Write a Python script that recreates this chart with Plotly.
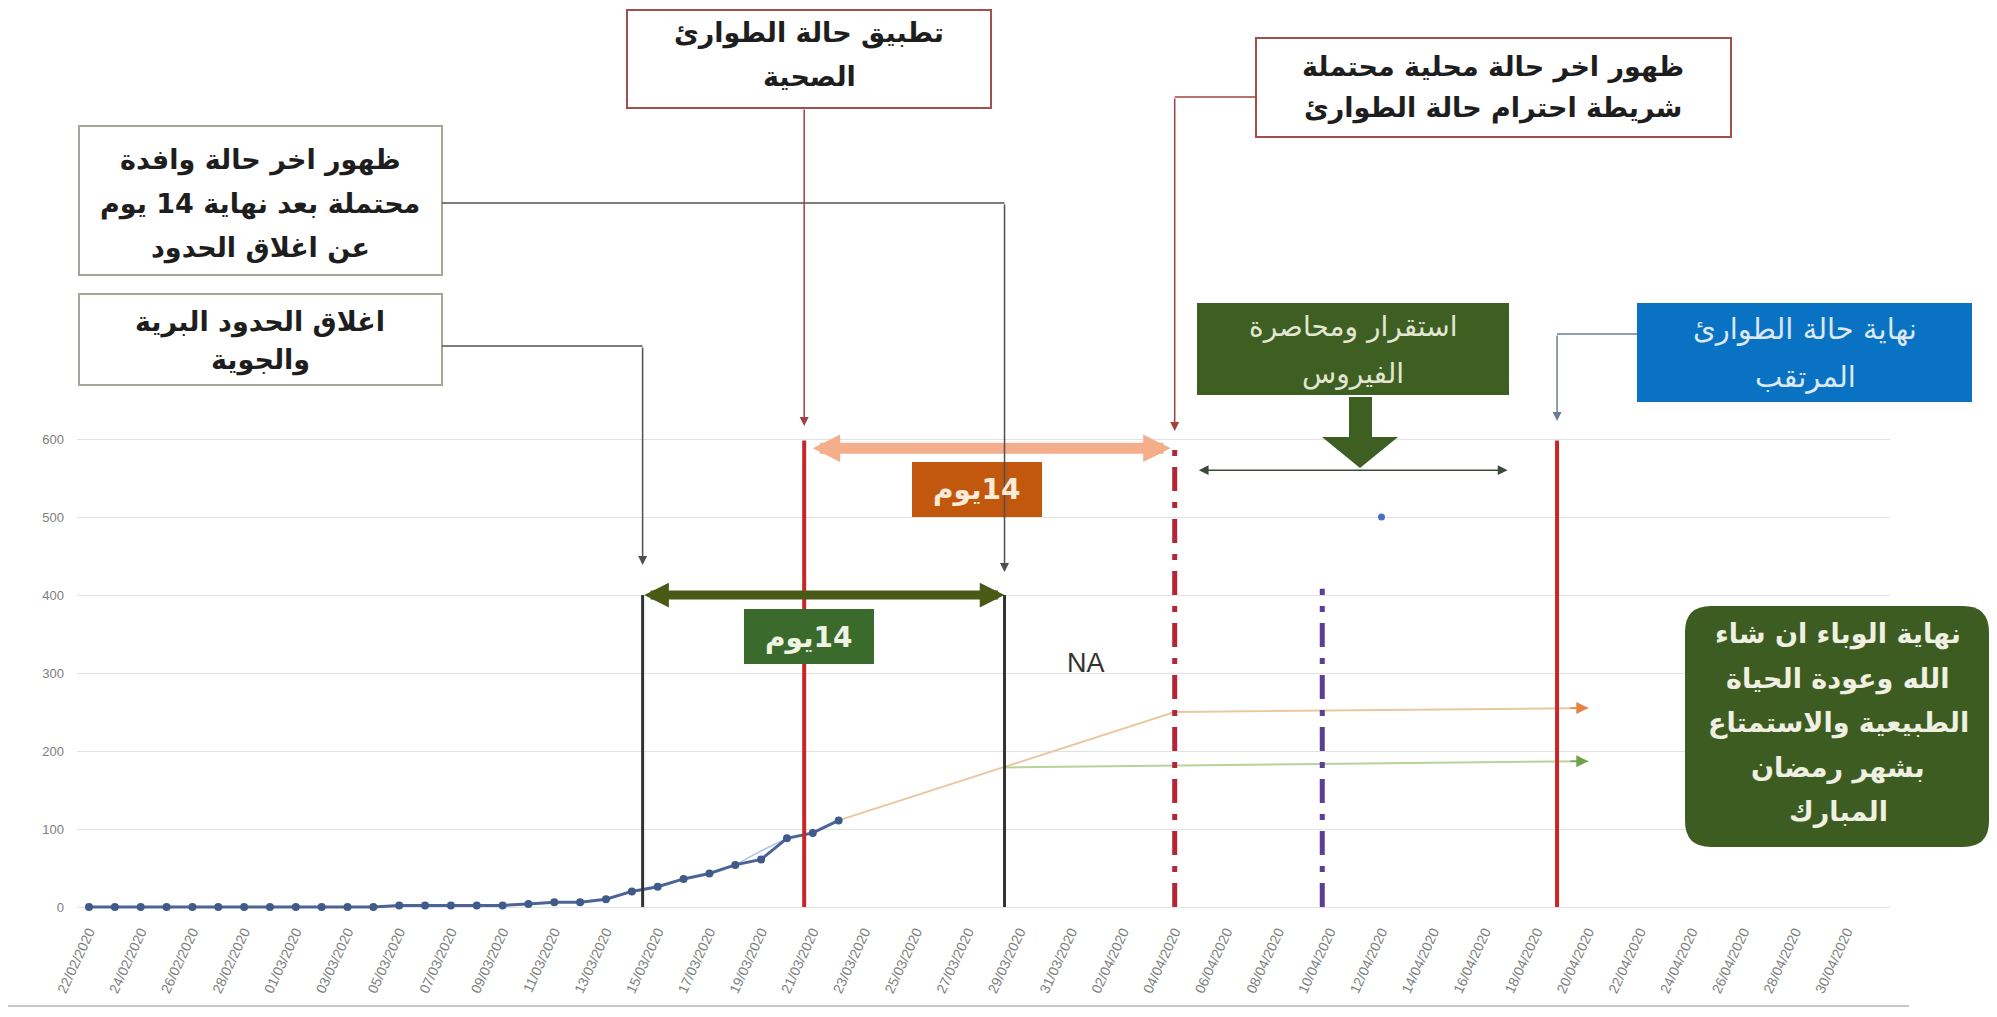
import plotly.graph_objects as go
from datetime import datetime, timedelta

# ---------------- data ----------------
dates = ["2020-02-22", "2020-02-23", "2020-02-24", "2020-02-25", "2020-02-26", "2020-02-27",
         "2020-02-28", "2020-02-29", "2020-03-01", "2020-03-02", "2020-03-03", "2020-03-04",
         "2020-03-05", "2020-03-06", "2020-03-07", "2020-03-08", "2020-03-09", "2020-03-10",
         "2020-03-11", "2020-03-12", "2020-03-13", "2020-03-14", "2020-03-15", "2020-03-16",
         "2020-03-17", "2020-03-18", "2020-03-19", "2020-03-20", "2020-03-21", "2020-03-22"]
cases = [0, 0, 0, 0, 0, 0, 0, 0, 0, 0, 0, 0, 2, 2, 2, 2, 2, 4, 6, 6,
         10, 20, 26, 36, 43, 54, 61, 88, 95, 111]

trend_dates = ["2020-03-18", "2020-03-19", "2020-03-20"]
trend_vals = [54, 72, 88]

proj_dates = ["2020-03-22", "2020-04-04", "2020-04-20"]
proj_vals = [111, 250, 255]

proj2_dates = ["2020-03-28 10:00", "2020-04-20"]
proj2_vals = [179, 187]

extra_dates = ["2020-04-12"]
extra_vals = [500]

# event lines
ev_border = "2020-03-14 10:00"      # border closing
ev_emerg = "2020-03-20 16:00"       # health emergency
ev_last_imported = "2020-03-28 10:00"
ev_last_local = "2020-04-04 00:00"
ev_purple = "2020-04-09 17:00"
ev_end = "2020-04-18 19:00"

tick_dates = ["2020-02-22", "2020-02-24", "2020-02-26", "2020-02-28", "2020-03-01", "2020-03-03",
              "2020-03-05", "2020-03-07", "2020-03-09", "2020-03-11", "2020-03-13", "2020-03-15",
              "2020-03-17", "2020-03-19", "2020-03-21", "2020-03-23", "2020-03-25", "2020-03-27",
              "2020-03-29", "2020-03-31", "2020-04-02", "2020-04-04", "2020-04-06", "2020-04-08",
              "2020-04-10", "2020-04-12", "2020-04-14", "2020-04-16", "2020-04-18", "2020-04-20",
              "2020-04-22", "2020-04-24", "2020-04-26", "2020-04-28", "2020-04-30"]
y_ticks = [0, 100, 200, 300, 400, 500, 600]

# ---------------- geometry (page pixel coordinates) ----------------
OFF = 8                      # default body margin of the html page
FW, FH = 1981, 1001          # figure size
L, R, T, B = 77, 1890, 8, 920
DAY0 = datetime(2020, 2, 22)
PX_PER_DAY = 25.85
X0_PX = 89
Y0_PX = 907
PX_PER_UNIT = 0.78

xmin = DAY0 + timedelta(days=(L - X0_PX) / PX_PER_DAY)
xmax = DAY0 + timedelta(days=(R - X0_PX) / PX_PER_DAY)
ymin = (Y0_PX - B) / PX_PER_UNIT
ymax = (Y0_PX - T) / PX_PER_UNIT


def ppx(px):
    return (px - L) / (R - L)


def ppy(py):
    return (B - py) / (B - T)


def date_px(s):
    d = datetime.fromisoformat(s)
    return X0_PX + (d - DAY0).total_seconds() / 86400 * PX_PER_DAY


AR = "DejaVu Sans, sans-serif"

fig = go.Figure()

fig.add_trace(go.Scatter(x=trend_dates, y=trend_vals, mode="lines",
                         line=dict(color="#A9C4E4", width=1.5), hoverinfo="skip"))
fig.add_trace(go.Scatter(x=proj_dates, y=proj_vals, mode="lines",
                         line=dict(color="#EBC7A0", width=2), hoverinfo="skip"))
fig.add_trace(go.Scatter(x=proj2_dates, y=proj2_vals, mode="lines",
                         line=dict(color="#B8D39A", width=2), hoverinfo="skip"))
fig.add_trace(go.Scatter(x=dates, y=cases, mode="lines+markers",
                         line=dict(color="#4A6498", width=3),
                         marker=dict(color="#405B8A", size=8)))
fig.add_trace(go.Scatter(x=extra_dates, y=extra_vals, mode="markers",
                         marker=dict(color="#4472C4", size=7)))

shapes = []
annots = []


def vline(date, top, color, width, dash="solid"):
    shapes.append(dict(type="line", xref="x", yref="y", x0=date, x1=date, y0=0, y1=top,
                       line=dict(color=color, width=width, dash=dash), layer="above"))


vline(ev_border, 400, "#333333", 3)
vline(ev_last_imported, 400, "#333333", 3)
vline(ev_emerg, 598, "#C62828", 4)
vline(ev_last_local, 596, "#B32637", 5, "24px,11px,6px,11px")
vline(ev_purple, 408, "#5B3F91", 5, "24px,11px,6px,11px")
vline(ev_end, 598, "#C62828", 4)


def darrow(x0, x1, y, color, width, size, s0=0, s1=0):
    annots.append(dict(x=x1, y=y, ax=x0, ay=y, xref="x", yref="y", axref="x", ayref="y",
                       text="", showarrow=True, arrowhead=2, startarrowhead=2,
                       arrowside="end+start", arrowsize=size, startarrowsize=size,
                       arrowwidth=width, arrowcolor=color, standoff=s1, startstandoff=s0))


darrow(ev_emerg, ev_last_local, 588, "#F4AE8A", 11, 0.5, 7, 4)
darrow(ev_border, ev_last_imported, 400, "#4A5A16", 9, 0.55)
darrow("2020-04-04 21:00", "2020-04-16 21:00", 560, "#3A4A3A", 1.5, 1.3)

for yv, c in [(255, "#E3833F"), (187, "#6FA34A")]:
    annots.append(dict(x="2020-04-20", y=yv, ax="2020-04-19 06:00", ay=yv, xref="x", yref="y",
                       axref="x", ayref="y", text="", showarrow=True, arrowhead=2,
                       arrowsize=1.6, arrowwidth=1.5, arrowcolor=c))

annots.append(dict(x="2020-03-31 14:00", y=313, xref="x", yref="y", text="NA", showarrow=False,
                   font=dict(family="Liberation Sans, Arial", size=27, color="#333333")))


def box(x0, y0, x1, y1, fill, border=None, bw=2):
    shapes.append(dict(type="rect", xref="paper", yref="paper", x0=ppx(x0), x1=ppx(x1),
                       y0=ppy(y1), y1=ppy(y0), fillcolor=fill,
                       line=dict(color=border if border else fill, width=bw if border else 0),
                       layer="above"))


def lines_text(lines, cx, cys, size, color, bold=True):
    for ln, cy in zip(lines, cys):
        annots.append(dict(x=ppx(cx), y=ppy(cy), xref="paper", yref="paper",
                           text=("<b>%s</b>" % ln) if bold else ln, showarrow=False,
                           xanchor="center", yanchor="middle",
                           font=dict(family=AR, size=size, color=color)))


def hseg(xa, xb, y, color):
    shapes.append(dict(type="line", xref="paper", yref="paper", x0=ppx(xa), x1=ppx(xb),
                       y0=ppy(y), y1=ppy(y), line=dict(color=color, width=1.5), layer="above"))


def vconn(x, ystart, ytip, color):
    annots.append(dict(x=ppx(x), y=ppy(ytip), xref="paper", yref="paper", ax=0, ay=ystart - ytip,
                       text="", showarrow=True, arrowhead=2, arrowsize=1.2, arrowwidth=1.5,
                       arrowcolor=color))


TXT = "#1E1E1E"
WS = 27
# box 1
box(627, 10, 991, 108, "white", "#A0504F")
lines_text(["تطبيق حالة الطوارئ", "الصحية"], 809, [33, 76], WS, TXT)
xe = date_px(ev_emerg)
vconn(xe, 108, 426, "#A04040")

# box 2
box(1256, 38, 1731, 137, "white", "#A0504F")
lines_text(["ظهور اخر حالة محلية محتملة", "شريطة احترام حالة الطوارئ"], 1493, [67, 108], WS, TXT)
xl = date_px(ev_last_local)
hseg(1256, xl, 97, "#A04040")
vconn(xl, 97, 431, "#A04040")

# box 3
box(79, 126, 442, 275, "white", "#A3A89A")
lines_text(["ظهور اخر حالة وافدة", "محتملة بعد نهاية 14 يوم", "عن اغلاق الحدود"],
           260, [160, 204, 248], WS, TXT)
xi = date_px(ev_last_imported)
hseg(442, xi, 203, "#505050")
vconn(xi, 203, 572, "#505050")

# box 4
box(79, 294, 442, 385, "white", "#A3A89A")
lines_text(["اغلاق الحدود البرية", "والجوية"], 260, [322, 360], WS, TXT)
xb = date_px(ev_border)
hseg(442, xb, 346, "#505050")
vconn(xb, 346, 565, "#505050")

# green stabilisation box
box(1197, 303, 1509, 395, "#3E5F22")
lines_text(["استقرار ومحاصرة", "الفيروس"], 1353, [327, 373], 28, "#E4E6D4", bold=False)
pts = [(1349, 397), (1372, 397), (1372, 437), (1398, 437), (1360, 468), (1322, 437), (1349, 437)]
path = "M " + " L ".join("%f,%f" % (ppx(a), ppy(b)) for a, b in pts) + " Z"
shapes.append(dict(type="path", xref="paper", yref="paper", path=path,
                   fillcolor="#3E5F22", line=dict(width=0), layer="above"))

# blue box
box(1637, 303, 1972, 402, "#0A72C2")
lines_text(["نهاية حالة الطوارئ", "المرتقب"], 1805, [329, 377], 29, "#DCE8F4", bold=False)
xr = date_px(ev_end)
hseg(1637, xr, 334, "#6A7F96")
vconn(xr, 334, 421, "#6A7F96")

# 14 day labels
box(912, 462, 1042, 517, "#C2570E")
lines_text(["\u200f14يوم"], 977, [490], 28, "#FBEBD8")
box(744, 609, 874, 664, "#3A6B2C")
lines_text(["\u200f14يوم"], 809, [637], 28, "#EEF3E2")

# rounded final box
x0, y0, x1, y1, r = 1685, 606, 1989, 847, 26
P = lambda a, b: "%f,%f" % (ppx(a), ppy(b))
rpath = ("M " + P(x0 + r, y0) + " L " + P(x1 - r, y0) + " Q " + P(x1, y0) + " " + P(x1, y0 + r) +
         " L " + P(x1, y1 - r) + " Q " + P(x1, y1) + " " + P(x1 - r, y1) +
         " L " + P(x0 + r, y1) + " Q " + P(x0, y1) + " " + P(x0, y1 - r) +
         " L " + P(x0, y0 + r) + " Q " + P(x0, y0) + " " + P(x0 + r, y0) + " Z")
shapes.append(dict(type="path", xref="paper", yref="paper", path=rpath,
                   fillcolor="#3D5C22", line=dict(width=0), layer="above"))
lines_text(["نهاية الوباء ان شاء", "الله وعودة الحياة", "الطبيعية والاستمتاع", "بشهر رمضان", "المبارك"],
           1838, [634, 679, 723, 768, 812], 27, "#F0F0E2")

# bottom border
shapes.append(dict(type="line", xref="paper", yref="paper", x0=ppx(8), x1=ppx(1909),
                   y0=ppy(1006), y1=ppy(1006), line=dict(color="#C8C8C8", width=2)))

fig.update_layout(
    width=FW, height=FH,
    margin=dict(l=L - OFF, r=FW + OFF - R, t=T - OFF, b=FH + OFF - B),
    paper_bgcolor="white", plot_bgcolor="white", showlegend=False,
    shapes=shapes, annotations=annots,
    xaxis=dict(type="date", range=[xmin, xmax], tickvals=tick_dates, tickformat="%d/%m/%Y",
               tickangle=-65, tickfont=dict(family="Liberation Sans, Arial", size=14, color="#7E7E7E"),
               showgrid=False, zeroline=False, showline=False, ticks="", automargin=False),
    yaxis=dict(range=[ymin, ymax], tickvals=y_ticks, showgrid=True, gridcolor="#E2E2E2",
               gridwidth=1, zeroline=False, showline=False, ticks="", ticklabelstandoff=12,
               automargin=False,
               tickfont=dict(family="Liberation Sans, Arial", size=13, color="#7E7E7E")),
)
fig.write_html("out.html")
